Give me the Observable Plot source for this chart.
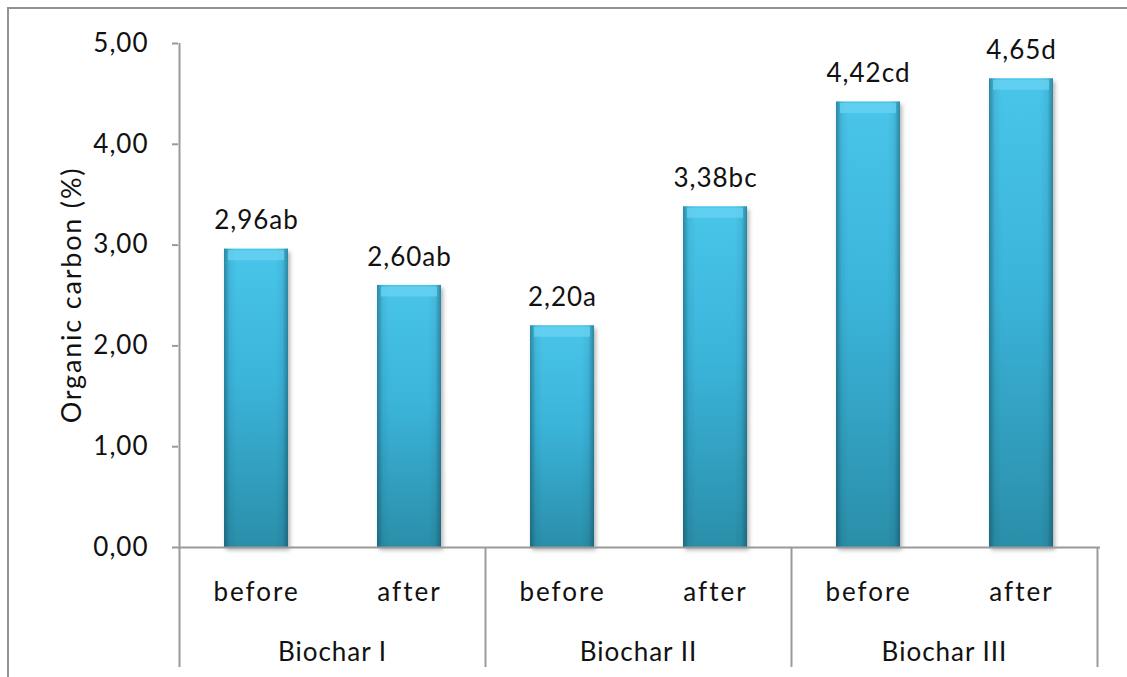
<!DOCTYPE html>
<html>
<head>
<meta charset="utf-8">
<script src="https://cdn.jsdelivr.net/npm/d3@7"></script>
<script src="https://cdn.jsdelivr.net/npm/@observablehq/plot@0.6"></script>
<style>
  html, body { margin: 0; padding: 0; background: #fff; }
  #chart { position: relative; width: 1127px; height: 677px; overflow: hidden; font-family: Lato, "Liberation Sans", sans-serif; }
  #frame { position: absolute; left: 7px; top: 7px; width: 1300px; height: 800px;
           border-top: 2px solid #929292; border-left: 2px solid #929292; }
  #chart svg { position: absolute; left: 0; top: 0; }
</style>
</head>
<body>
<div id="chart"><div id="frame"></div></div>
<script>
// Organic carbon content of soil before/after each biochar treatment
const groups = ["Biochar I", "Biochar I", "Biochar II", "Biochar II", "Biochar III", "Biochar III"];
const stages = ["before", "after", "before", "after", "before", "after"];
const values = [2.96, 2.60, 2.20, 3.38, 4.42, 4.65];
const letters = ["ab", "ab", "a", "bc", "cd", "d"];
const groupNames = ["Biochar I", "Biochar II", "Biochar III"];
const yTicks = [0, 1, 2, 3, 4, 5];
const yTitle = "Organic carbon (%)";

const comma = d => d3.format(".2f")(d).replace(".", ",");

const data = values.map((v, i) => ({
  key: `${groups[i]}|${stages[i]}`,
  group: groups[i],
  stage: stages[i],
  value: v,
  label: comma(v) + letters[i]
}));

const GRID = "#9a9a9a";
const FONT = 26;
const NS = "http://www.w3.org/2000/svg";

// gradient definitions used by the bars
function defs() {
  const g = document.createElementNS(NS, "g");
  g.innerHTML = `
    <defs>
      <linearGradient id="barFill" x1="0" y1="0" x2="0" y2="1">
        <stop offset="0" stop-color="#49c5ea"/>
        <stop offset="0.45" stop-color="#3bb4da"/>
        <stop offset="1" stop-color="#2a8ea9"/>
      </linearGradient>
      <linearGradient id="barEdge" x1="0" y1="0" x2="1" y2="0">
        <stop offset="0" stop-color="#0b3a4a" stop-opacity="0.45"/>
        <stop offset="0.09" stop-color="#0b3a4a" stop-opacity="0.08"/>
        <stop offset="0.2" stop-color="#0b3a4a" stop-opacity="0"/>
        <stop offset="0.8" stop-color="#0b3a4a" stop-opacity="0"/>
        <stop offset="0.91" stop-color="#0b3a4a" stop-opacity="0.08"/>
        <stop offset="1" stop-color="#0b3a4a" stop-opacity="0.45"/>
      </linearGradient>
    </defs>`;
  return g;
}

function svgText(g, str, attrs) {
  const t = document.createElementNS(NS, "text");
  for (const [k, v] of Object.entries(attrs)) t.setAttribute(k, v);
  t.textContent = str;
  g.appendChild(t);
  return t;
}

// category axis: group separators, left axis line, group names and y title
function groupAxis(index, scales, values, dims) {
  const x = scales.x, y = scales.y;
  const bw = typeof x.bandwidth === "function" ? x.bandwidth() : 0;
  const cx = k => x(k) + bw / 2;
  const step = cx(data[1].key) - cx(data[0].key);
  const bottom = dims.height - 10;
  const g = document.createElementNS(NS, "g");
  const line = (x1, y1, x2, y2) => {
    const l = document.createElementNS(NS, "line");
    l.setAttribute("x1", x1); l.setAttribute("y1", y1);
    l.setAttribute("x2", x2); l.setAttribute("y2", y2);
    l.setAttribute("stroke", GRID); l.setAttribute("stroke-width", 2);
    g.appendChild(l);
  };
  // left axis line, continuing down through the category rows
  const left = cx(data[0].key) - step / 2;
  line(left, y(yTicks[yTicks.length - 1]), left, bottom);
  groupNames.forEach(name => {
    const members = data.filter(d => d.group === name);
    const first = cx(members[0].key), last = cx(members[members.length - 1].key);
    const right = last + step / 2;
    line(right, y(0), right, bottom);
    svgText(g, name, {
      x: (first + last) / 2, y: y(0) + 114, "text-anchor": "middle",
      "font-size": FONT, fill: "#111", "letter-spacing": "1px"
    });
  });
  // rotated y-axis title, centred on the value range
  const ty = (y(0) + y(yTicks[yTicks.length - 1])) / 2;
  svgText(g, yTitle, {
    transform: `translate(${left - 99},${ty}) rotate(-90)`, "text-anchor": "middle",
    "font-size": 27, fill: "#111", "letter-spacing": "1.8px"
  });
  return g;
}

const chart = Plot.plot({
  width: 1127,
  height: 677,
  marginLeft: 178,
  marginRight: 27,
  marginTop: 43,
  marginBottom: 130,
  style: { fontFamily: "Lato, 'Liberation Sans', sans-serif", fontSize: FONT + "px", color: "#111", background: "transparent" },
  x: { domain: data.map(d => d.key), paddingInner: 0.58, paddingOuter: 0.29, axis: null },
  y: { domain: [0, 5], axis: null },
  marks: [
    defs,
    Plot.axisY({ ticks: yTicks, tickFormat: comma, tickSize: 6, tickPadding: 24, stroke: GRID, strokeWidth: 2, fontSize: FONT, fill: "#111", label: null }),
    Plot.axisX({ tickFormat: k => k.split("|")[1], tickSize: 0, tickPadding: 35, fontSize: FONT, fill: "#111", label: null }),
    groupAxis,
    Plot.barY(data, { x: "key", y: "value", fill: "url(#barFill)" }),
    Plot.barY(data, { x: "key", y: "value", fill: "url(#barEdge)" }),
    Plot.tickY(data, { x: "key", y: "value", stroke: "#6ad3f1", strokeWidth: 10, dy: 6, strokeOpacity: 0.75, inset: 4 }),
    Plot.ruleY([0], { stroke: GRID, strokeWidth: 2 }),
    Plot.text(data, { x: "key", y: "value", text: "label", dy: -28, fontSize: FONT, fill: "#111" })
  ]
});

// soft shadow under the bars
const barGroups = chart.querySelectorAll('g[aria-label="bar"]');
if (barGroups.length) barGroups[0].style.filter = "drop-shadow(2px 3px 2px rgba(0,0,0,0.3))";

// slight tracking on the text, as in the original typesetting
chart.querySelectorAll('g[aria-label="y-axis tick label"] text, g[aria-label="text"] text')
  .forEach(t => t.setAttribute("letter-spacing", "1px"));
chart.querySelectorAll('g[aria-label="x-axis tick label"] text')
  .forEach(t => t.setAttribute("letter-spacing", "2px"));

document.getElementById("chart").appendChild(chart);
</script>
</body>
</html>
